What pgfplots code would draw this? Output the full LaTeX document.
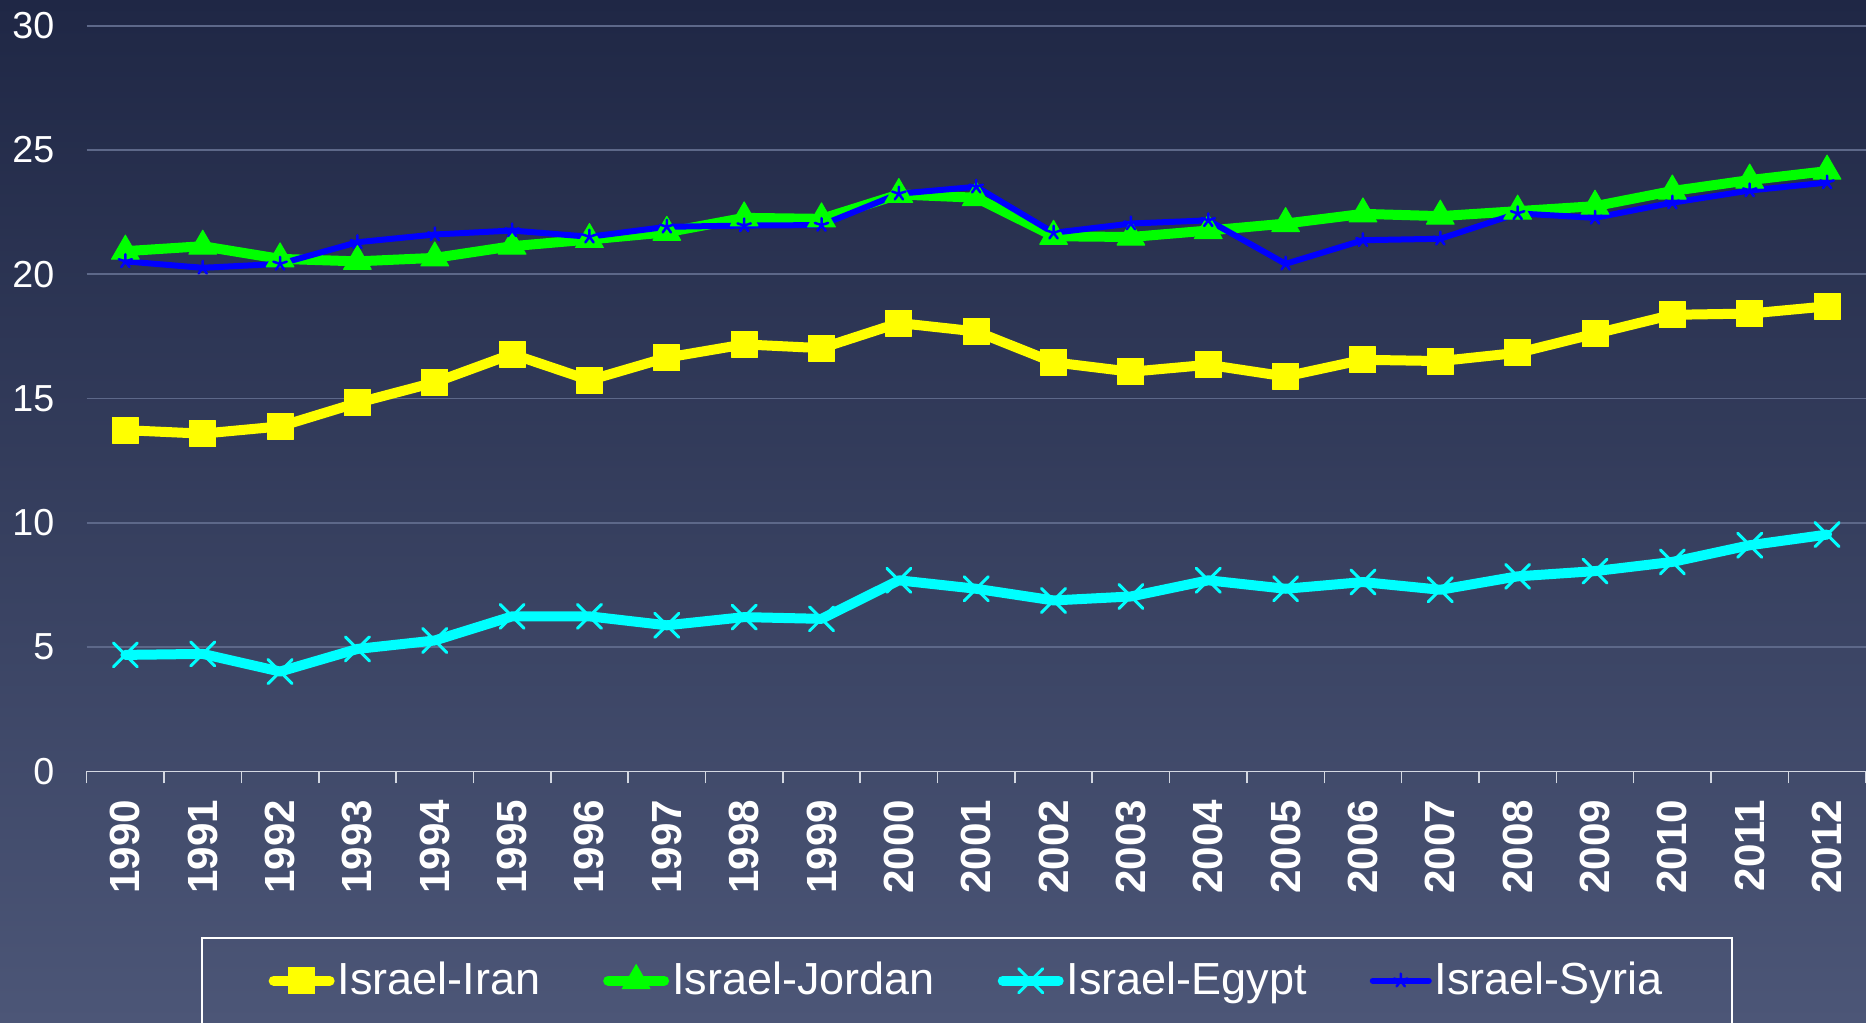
\documentclass[border=0pt]{standalone}
\usepackage{fontspec}
\setmainfont{Liberation Sans}
\usepackage{pgfplots}
\pgfplotsset{compat=1.18}

\definecolor{bgtop}{HTML}{1F2745}
\definecolor{bgbot}{HTML}{4C5677}
\definecolor{gridc}{HTML}{5D6889}
\definecolor{axc}{HTML}{D4D8E2}
\definecolor{iran}{HTML}{FFFF00}
\definecolor{jordan}{HTML}{00FF00}
\definecolor{egypt}{HTML}{00FFFF}
\definecolor{syria}{HTML}{0000FF}

\begin{document}
\begin{tikzpicture}
\path[use as bounding box] (0,0) rectangle (18.66,10.23);
\clip (0,0) rectangle (18.66,10.23);
\shade[top color=bgtop, bottom color=bgbot] (0,0) rectangle (18.66,10.23);

\begin{axis}[
    at={(0.867cm,2.515cm)}, anchor=south west,
    width=17.79cm, height=7.458cm, scale only axis,
    xmin=-0.5, xmax=22.5, ymin=0, ymax=30,
    axis x line*=bottom, axis y line*=left,
    x axis line style={draw=axc, line width=0.015cm},
    y axis line style={draw=none},
    ytick={0,5,...,30},
    ytick style={draw=none},
    ymajorgrids,
    major grid style={draw=gridc, line width=0.018cm},
    xtick={0,...,22},
    xticklabels={1990,1991,1992,1993,1994,1995,1996,1997,1998,1999,2000,2001,2002,2003,2004,2005,2006,2007,2008,2009,2010,2011,2012},
    major x tick style={draw=none},
    minor xtick={-0.5,0.5,...,22.5},
    minor x tick style={draw=axc, line width=0.015cm},
    minor tick length=0.12cm,
    xtick align=outside,
    /pgf/number format/assume math mode=true,
    yticklabel style={font=\fontsize{10.7}{12}\selectfont, text=white, xshift=-0.2cm},
    xticklabel style={font=\fontsize{12}{13}\selectfont\bfseries, text=white, rotate=90, anchor=east, xshift=-0.01cm},
    legend columns=4,
    legend style={at={(0.4948,-0.2805)}, anchor=center, draw=none, fill=none,
        text=white, font=\fontsize{12.8}{14}\selectfont, inner sep=0pt,
        nodes={inner sep=0.03cm},
        /tikz/every odd column/.append style={column sep=0.0cm},
        /tikz/every even column/.append style={column sep=0.6cm}},
    legend image code/.code={\draw[mark repeat=2, mark phase=2] plot coordinates {(0cm,0cm) (0.28cm,0cm) (0.56cm,0cm)};},
]
\addplot[color=iran, line width=0.1cm, line join=round, line cap=round,
    mark=square*, mark size=0.13cm, mark options={line width=0.01cm, solid}] coordinates {
(0,13.73) (1,13.59) (2,13.88) (3,14.83) (4,15.65) (5,16.79) (6,15.74) (7,16.65)
(8,17.18) (9,17.03) (10,18.04) (11,17.70) (12,16.46) (13,16.08) (14,16.36) (15,15.89)
(16,16.56) (17,16.51) (18,16.84) (19,17.61) (20,18.37) (21,18.42) (22,18.71)
};
\addlegendentry{Israel-Iran}
\addplot[color=jordan, line width=0.1cm, line join=round, line cap=round,
    mark=triangle*, mark size=0.16cm, mark options={line width=0.01cm, solid}] coordinates {
(0,20.93) (1,21.13) (2,20.62) (3,20.52) (4,20.66) (5,21.13) (6,21.40) (7,21.69)
(8,22.27) (9,22.23) (10,23.21) (11,23.08) (12,21.53) (13,21.50) (14,21.76) (15,22.04)
(16,22.43) (17,22.34) (18,22.54) (19,22.74) (20,23.35) (21,23.79) (22,24.15)
};
\addlegendentry{Israel-Jordan}
\addplot[color=egypt, line width=0.1cm, line join=round, line cap=round,
    mark=x, mark size=0.17cm, mark options={line width=0.03cm, solid}] coordinates {
(0,4.69) (1,4.73) (2,4.02) (3,4.93) (4,5.27) (5,6.24) (6,6.24) (7,5.88)
(8,6.21) (9,6.14) (10,7.69) (11,7.35) (12,6.88) (13,7.04) (14,7.69) (15,7.35)
(16,7.62) (17,7.31) (18,7.85) (19,8.06) (20,8.43) (21,9.10) (22,9.53)
};
\addlegendentry{Israel-Egypt}
\addplot[color=syria, line width=0.06cm, line join=round, line cap=round,
    mark=star, mark size=0.07cm, mark options={line width=0.025cm, solid}] coordinates {
(0,20.52) (1,20.26) (2,20.42) (3,21.29) (4,21.60) (5,21.76) (6,21.51) (7,21.91)
(8,21.96) (9,21.98) (10,23.24) (11,23.52) (12,21.67) (13,22.04) (14,22.17) (15,20.42)
(16,21.37) (17,21.43) (18,22.45) (19,22.27) (20,22.88) (21,23.37) (22,23.69)
};
\addlegendentry{Israel-Syria}
\end{axis}

\draw[white, line width=0.015cm] (2.02,-0.1) -- (2.02,0.85) -- (17.32,0.85) -- (17.32,-0.1);
\end{tikzpicture}
\end{document}
